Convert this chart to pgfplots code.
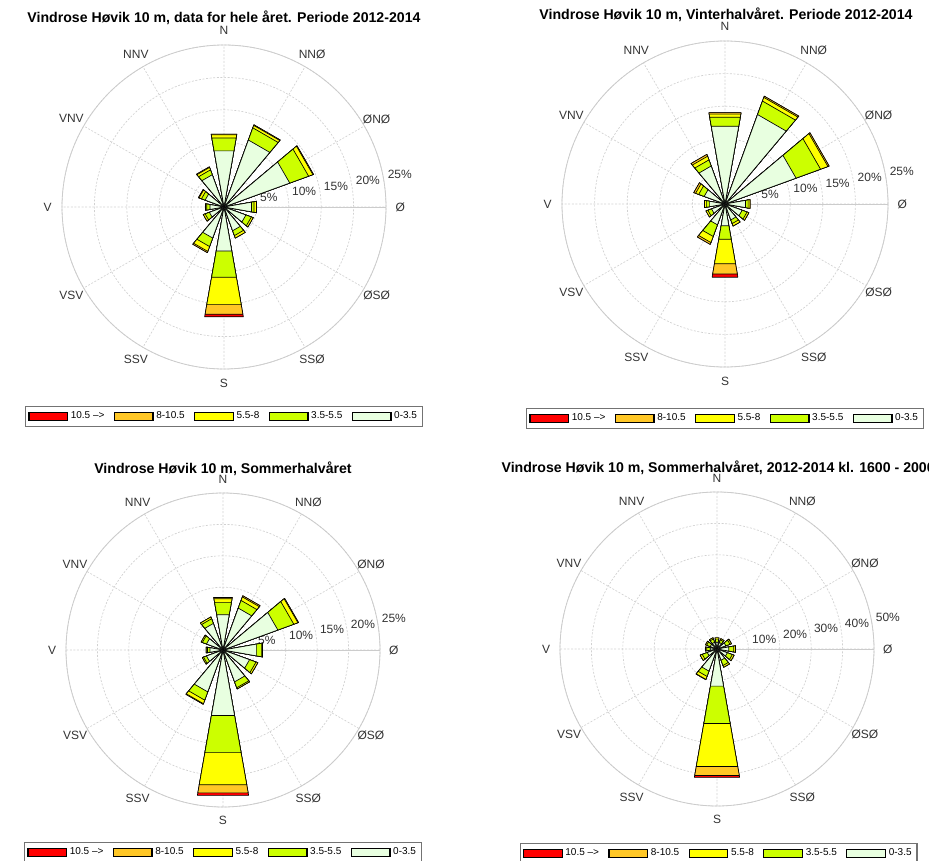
\documentclass[border=0pt]{standalone}
\usepackage{fontspec}
\setmainfont{Liberation Sans}
\usepackage{pgfplots}
\usepackage{pgfplotstable}
\pgfplotsset{compat=1.18}
\usepgfplotslibrary{polar}

\definecolor{cRed}{HTML}{FF0000}
\definecolor{cOrange}{HTML}{FFC726}
\definecolor{cYellow}{HTML}{FFFF00}
\definecolor{cGreen}{HTML}{CCFF00}
\definecolor{cLight}{HTML}{E8FFE0}

% rows: compass direction 0,30,...,330 ; cumulative radii (percent)
% r1: 0-3.5, r2: +3.5-5.5, r3: +5.5-8, r4: +8-10.5, r5: +10.5->
\pgfplotstableread{
dir r1 r2 r3 r4 r5
0   8.8 10.8 11.3 11.4 11.4
30  11.0 13.0 13.4 13.5 13.5
60  10.8 13.9 14.6 14.7 14.7
90  4.3 4.7 5.1 5.1 5.1
120 3.6 4.5 4.8 4.8 4.8
150 3.9 4.7 5.1 5.1 5.1
180 6.9 11.0 15.3 16.8 17.2
210 5.1 6.5 7.3 7.5 7.5
240 2.4 3.1 3.4 3.4 3.4
270 2.2 2.7 2.9 2.9 2.9
300 3.1 3.7 4.1 4.2 4.2
330 5.3 6.1 6.5 6.6 6.6
}\tabA
\pgfplotstableread{
dir r1 r2 r3 r4 r5
0   12.1 13.5 14.0 14.2 14.2
30  14.6 16.8 17.4 17.6 17.6
60  11.6 15.6 16.8 17.0 17.0
90  3.2 3.6 3.9 3.9 3.9
120 2.8 3.6 3.9 3.9 3.9
150 2.6 3.2 3.6 3.6 3.6
180 3.4 5.5 9.3 10.9 11.4
210 3.4 5.3 6.3 6.6 6.6
240 2.2 2.8 3.1 3.1 3.1
270 2.4 2.9 3.2 3.2 3.2
300 3.4 4.3 4.8 5.1 5.1
330 6.2 7.2 7.8 8.1 8.1
}\tabB
\pgfplotstableread{
dir r1 r2 r3 r4 r5
0   5.7 7.7 8.3 8.5 8.5
30  7.1 8.4 9.0 9.2 9.2
60  9.3 12.0 12.7 12.8 12.8
90  5.4 6.2 6.4 6.4 6.4
120 4.5 5.6 5.9 5.9 5.9
150 5.4 6.4 6.6 6.6 6.6
180 10.6 16.6 21.8 23.1 23.5
210 7.1 8.5 9.1 9.2 9.2
240 2.8 3.3 3.5 3.5 3.5
270 2.1 2.5 2.7 2.7 2.7
300 2.8 3.5 3.7 3.7 3.7
330 4.5 5.3 5.6 5.6 5.6
}\tabC
\pgfplotstableread{
dir r1 r2 r3 r4 r5
0   2.2 3.2 3.6 3.6 3.6
30  2.2 3.1 3.5 3.5 3.5
60  3.0 4.4 4.9 4.9 4.9
90  3.8 5.4 6.0 6.0 6.0
120 3.5 5.2 5.8 5.8 5.8
150 3.8 5.6 6.2 6.2 6.2
180 12.0 24.1 38.0 40.9 41.5
210 7.5 9.3 10.3 10.4 10.4
240 3.3 5.0 5.7 5.7 5.7
270 2.2 3.3 3.7 3.7 3.7
300 2.3 3.5 3.9 3.9 3.9
330 2.3 3.4 3.8 3.8 3.8
}\tabD

\newcommand\drawlevel[3]{%
  \pgfplotsinvokeforeach{0,...,11}{%
    \pgfplotstablegetelem{##1}{dir}\of#1\let\cdir\pgfplotsretval
    \pgfplotstablegetelem{##1}{#2}\of#1\let\crad\pgfplotsretval
    \pgfmathsetmacro\aL{450-\cdir-10}%
    \pgfmathsetmacro\aR{450-\cdir+10}%
    \edef\tmp{\noexpand\addplot[forget plot, draw=black, line width=0.5pt, line join=round, fill=#3] coordinates {(0,0) (\aL,\crad) (\aR,\crad)} -- cycle;}%
    \tmp
  }%
}
\newcommand\drawrose[1]{%
  \drawlevel{#1}{r5}{cRed}%
  \drawlevel{#1}{r4}{cOrange}%
  \drawlevel{#1}{r3}{cYellow}%
  \drawlevel{#1}{r2}{cGreen}%
  \drawlevel{#1}{r1}{cLight}%
}
\newcommand\roselegend{%
  \addlegendimage{draw=black, fill=cRed}\addlegendentry{10.5 -->}
  \addlegendimage{draw=black, fill=cOrange}\addlegendentry{8-10.5}
  \addlegendimage{draw=black, fill=cYellow}\addlegendentry{5.5-8}
  \addlegendimage{draw=black, fill=cGreen}\addlegendentry{3.5-5.5}
  \addlegendimage{draw=black, fill=cLight}\addlegendentry{0-3.5}
}
\newcommand\rlabels[1]{%
  \pgfplotsinvokeforeach{#1}{%
    \node[anchor=west, inner sep=0pt, xshift=3pt, yshift=3pt, font=\fontsize{9}{10}\selectfont, text=black!80] at (axis cs:10,##1) {##1\%};
  }%
}
\tikzset{dirlab/.style={anchor=center, inner sep=0pt, font=\fontsize{9}{10}\selectfont, text=black!80}}
\newcommand\dirlabels[1]{%
  \node[dirlab] at (axis cs:90,#1) {N};
  \node[dirlab] at (axis cs:60,#1) {NNØ};
  \node[dirlab] at (axis cs:30,#1) {ØNØ};
  \node[dirlab] at (axis cs:0,#1) {Ø};
  \node[dirlab] at (axis cs:330,#1) {ØSØ};
  \node[dirlab] at (axis cs:300,#1) {SSØ};
  \node[dirlab] at (axis cs:270,#1) {S};
  \node[dirlab] at (axis cs:240,#1) {SSV};
  \node[dirlab] at (axis cs:210,#1) {VSV};
  \node[dirlab] at (axis cs:180,#1) {V};
  \node[dirlab] at (axis cs:150,#1) {VNV};
  \node[dirlab] at (axis cs:120,#1) {NNV};
}

\pgfplotsset{
  rose/.style={
    anchor=origin, scale only axis, clip=false,
    xmin=0, xmax=360, ymin=0,
    xtick={0,30,...,330},
    xticklabels={}, yticklabels={},
    grid=major,
    major grid style={draw=black!18, line width=0.5pt, dash pattern=on 1.5pt off 1.2pt},
    axis line style={draw=black!20, line width=0.6pt},
    tick style={draw=none},
    title style={font=\bfseries\fontsize{10.6}{12}\selectfont},
    legend columns=5,
    legend image code/.code={\draw[##1] (0pt,-3pt) rectangle (29pt,3pt);},
    legend style={draw=black!55, line width=0.9pt, font=\fontsize{7.5}{8}\selectfont, anchor=north, inner sep=2pt,
      /tikz/every even column/.append style={column sep=5pt}},
  },
}

\begin{document}
\begin{tikzpicture}
\path[use as bounding box] (0,0) rectangle (696.75pt,645.75pt);

\begin{polaraxis}[rose, at={(168pt,490.5pt)}, width=243pt, height=243pt, ymax=25, ytick={5,10,...,25},
  title={Vindrose Høvik 10 m, data for hele året. Periode 2012-2014},
  title style={at={(0.5,1.024)}, anchor=center},
  legend style={at={(0.5,-0.114)}}]
\dirlabels{27.2}
\rlabels{5,10,15,20,25}
\drawrose{\tabA}
\roselegend
\end{polaraxis}

\begin{polaraxis}[rose, at={(543.75pt,492.75pt)}, width=244.5pt, height=244.5pt, ymax=25, ytick={5,10,...,25},
  title={Vindrose Høvik 10 m, Vinterhalvåret. Periode 2012-2014},
  title style={at={(0.503,1.022)}, anchor=center},
  legend style={at={(0.5,-0.126)}}]
\dirlabels{27.2}
\rlabels{5,10,15,20,25}
\drawrose{\tabB}
\roselegend
\end{polaraxis}

\begin{polaraxis}[rose, at={(167.25pt,158.25pt)}, width=235.5pt, height=235.5pt, ymax=25, ytick={5,10,...,25},
  title={Vindrose Høvik 10 m, Sommerhalvåret},
  title style={at={(0.5,1.016)}, anchor=center},
  legend style={at={(0.5,-0.111)}}]
\dirlabels{27.2}
\rlabels{5,10,15,20,25}
\drawrose{\tabC}
\roselegend
\end{polaraxis}

\begin{polaraxis}[rose, at={(537.75pt,159pt)}, width=235.5pt, height=235.5pt, ymax=50, ytick={10,20,...,50},
  title={Vindrose Høvik 10 m, Sommerhalvåret, 2012-2014 kl. 1600 - 2000},
  title style={at={(-0.201,1.016)}, anchor=west},
  legend style={at={(0.505,-0.118)}}]
\dirlabels{54.4}
\rlabels{10,20,30,40,50}
\drawrose{\tabD}
\roselegend
\end{polaraxis}
\end{tikzpicture}
\end{document}
